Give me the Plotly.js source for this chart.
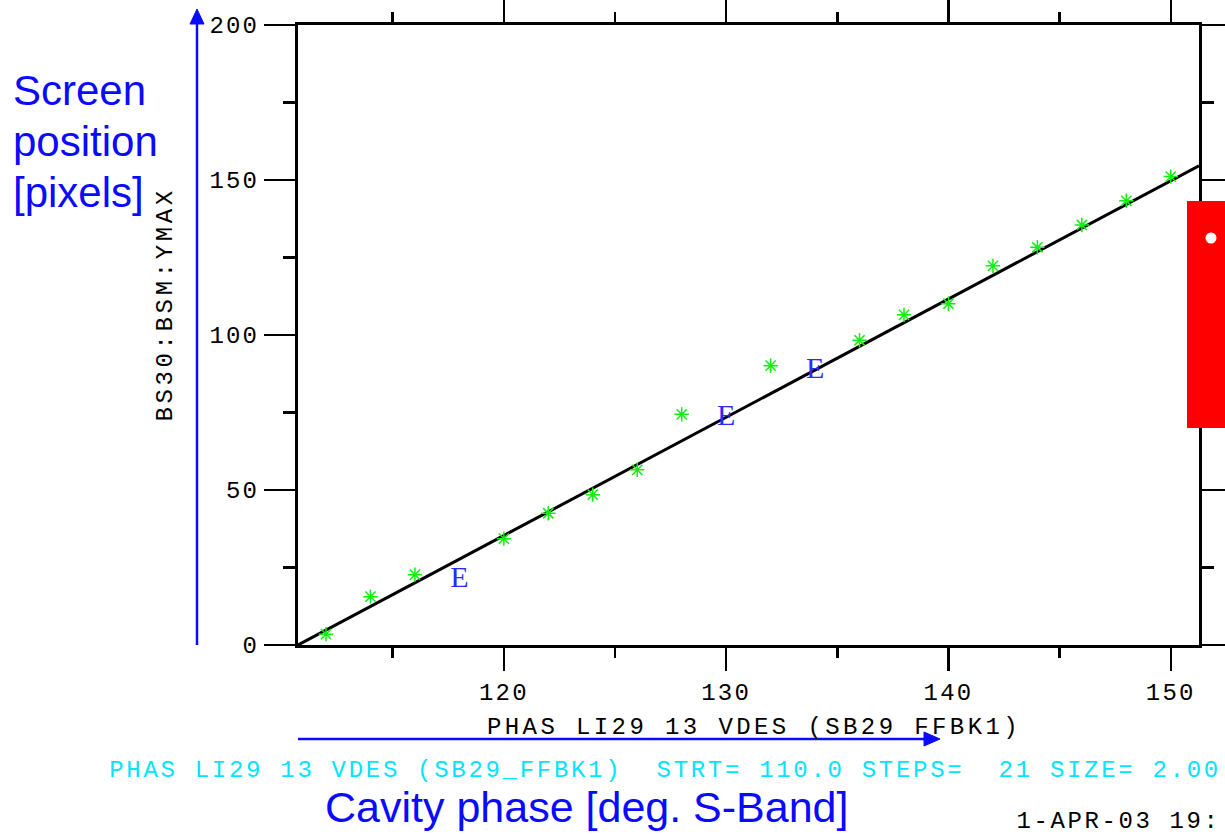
<!DOCTYPE html>
<html>
<head>
<meta charset="utf-8">
<script src="https://cdn.plot.ly/plotly-3.0.1.min.js"></script>
<style>
  html, body { margin: 0; padding: 0; background: #ffffff; }
  #chart { width: 1225px; height: 834px; }
  .xtick text, .ytick text { letter-spacing: 2.2px; }
  .annotation[data-index="0"] text { letter-spacing: 3.4px; }
  .annotation[data-index="1"] text { letter-spacing: 2.7px; }
  .annotation[data-index="2"] text { letter-spacing: 2.6px; }
  .annotation[data-index="3"] text { letter-spacing: 3.6px; }
</style>
</head>
<body>
<div id="chart"></div>
<script>
// ---- data ----
const phase = [112, 114, 116, 120, 122, 124, 126, 128, 132, 136, 138, 140, 142, 144, 146, 148, 150];
const ymax = [3.5, 15.6, 22.7, 34.3, 42.5, 48.5, 56.5, 74.4, 90.1, 98.3, 106.5, 110.1, 122.3, 128.3, 135.5, 143.3, 151.1];
const errPhase = [118, 130, 134];
const errY = [21.2, 73.4, 88.5];
const errLabel = ['E', 'E', 'E'];
const fitX = [110.74, 151.27];
const fitY = [0, 154.6];
const xTickVals = [120, 130, 140, 150];
const yTickVals = [0, 50, 100, 150, 200];
const xTitle = 'PHAS LI29 13 VDES (SB29 FFBK1)';
const yTitle = 'BS30:BSM:YMAX';
const scanInfo = 'PHAS LI29 13 VDES (SB29_FFBK1)  STRT= 110.0 STEPS=  21 SIZE= 2.00';
const dateText = '1-APR-03 19:';
const yNoteLines = ['Screen', 'position', '[pixels]'];
const xNote = 'Cavity phase [deg. S-Band]';

// ---- geometry helpers (pixel -> paper) ----
const L = 298, R = 1199, T = 25, B = 645;
const px = p => (p - L) / (R - L);
const py = p => (B - p) / (B - T);

const mono = 'Liberation Mono, Courier New, monospace';
const sans = 'Liberation Sans, Arial, sans-serif';
const blue = '#0a0aff';

const traces = [
  {
    x: fitX, y: fitY, type: 'scatter', mode: 'lines',
    line: { color: '#000000', width: 3 }, hoverinfo: 'skip', showlegend: false
  },
  {
    x: phase, y: ymax, type: 'scatter', mode: 'markers',
    marker: { symbol: 'asterisk-open', size: 12, color: '#11ee11', line: { color: '#11ee11', width: 1.5 } },
    showlegend: false
  },
  {
    x: errPhase, y: errY, type: 'scatter', mode: 'text',
    text: errLabel, textposition: 'middle center',
    textfont: { family: 'Liberation Serif, Times New Roman, serif', size: 30, color: '#2a2aff' },
    showlegend: false
  }
];

const annotations = [
  { text: xTitle, x: px(754), y: py(727), xanchor: 'center', yanchor: 'middle',
    font: { family: mono, size: 24, color: '#000000' } },
  { text: scanInfo, x: px(665), y: py(770), xanchor: 'center', yanchor: 'middle',
    font: { family: mono, size: 24, color: '#00e4ff' } },
  { text: dateText, x: px(1118), y: py(821), xanchor: 'center', yanchor: 'middle',
    font: { family: mono, size: 24, color: '#000000' } },
  { text: yTitle, x: px(165), y: py(305), xanchor: 'center', yanchor: 'middle', textangle: -90,
    font: { family: mono, size: 24, color: '#000000' } },
  { text: yNoteLines[0], x: px(11), y: py(90), xanchor: 'left', yanchor: 'middle',
    font: { family: sans, size: 42, color: blue } },
  { text: yNoteLines[1], x: px(11), y: py(141), xanchor: 'left', yanchor: 'middle',
    font: { family: sans, size: 42, color: blue } },
  { text: yNoteLines[2], x: px(11), y: py(192), xanchor: 'left', yanchor: 'middle',
    font: { family: sans, size: 42, color: blue } },
  { text: xNote, x: px(323), y: py(807), xanchor: 'left', yanchor: 'middle',
    font: { family: sans, size: 43, color: blue } }
].map(a => Object.assign({ xref: 'paper', yref: 'paper', showarrow: false }, a));

const shapes = [
  // vertical blue arrow
  { type: 'line', xref: 'paper', yref: 'paper', x0: px(197), x1: px(197), y0: py(645), y1: py(22),
    line: { color: blue, width: 2.5 } },
  { type: 'path', xref: 'paper', yref: 'paper',
    path: `M ${px(190)} ${py(24)} L ${px(204)} ${py(24)} L ${px(197)} ${py(9)} Z`,
    fillcolor: blue, line: { color: blue, width: 1 } },
  // horizontal blue arrow
  { type: 'line', xref: 'paper', yref: 'paper', x0: px(298), x1: px(927), y0: py(739), y1: py(739),
    line: { color: blue, width: 2.5 } },
  { type: 'path', xref: 'paper', yref: 'paper',
    path: `M ${px(924)} ${py(732)} L ${px(924)} ${py(746)} L ${px(940)} ${py(739)} Z`,
    fillcolor: blue, line: { color: blue, width: 1 } },
  // red box with white dot
  { type: 'rect', xref: 'paper', yref: 'paper', layer: 'above',
    x0: px(1187), x1: px(1227), y0: py(201), y1: py(428),
    fillcolor: '#ff0000', line: { width: 0 } },
  { type: 'circle', xref: 'paper', yref: 'paper', layer: 'above',
    x0: px(1205.5), x1: px(1216.5), y0: py(232.5), y1: py(243.5),
    fillcolor: '#ffffff', line: { width: 0 } }
];

const layout = {
  width: 1225, height: 834,
  margin: { l: L, r: 1225 - R, t: T, b: 834 - B, pad: 0 },
  paper_bgcolor: '#ffffff', plot_bgcolor: '#ffffff',
  font: { family: mono, color: '#000000' },
  showlegend: false,
  xaxis: {
    range: [110.74, 151.27], tickmode: 'array', tickvals: xTickVals, ticktext: xTickVals.map(String),
    showgrid: false, zeroline: false,
    showline: true, linecolor: '#000000', linewidth: 3, mirror: 'allticks',
    ticks: 'outside', ticklen: 23, tickwidth: 2.5, tickcolor: '#000000',
    minor: { dtick: 5, tick0: 0, ticks: 'outside', ticklen: 10, tickwidth: 2.5, tickcolor: '#000000', showgrid: false },
    tickfont: { family: mono, size: 24, color: '#000000' }
  },
  yaxis: {
    range: [0, 200], tickmode: 'array', tickvals: yTickVals, ticktext: yTickVals.map(String),
    showgrid: false, zeroline: false,
    showline: true, linecolor: '#000000', linewidth: 3, mirror: 'allticks',
    ticks: 'outside', ticklen: 31, tickwidth: 2.5, tickcolor: '#000000',
    minor: { dtick: 25, tick0: 0, ticks: 'outside', ticklen: 12, tickwidth: 2.5, tickcolor: '#000000', showgrid: false },
    tickfont: { family: mono, size: 24, color: '#000000' }
  },
  annotations: annotations,
  shapes: shapes
};

Plotly.newPlot('chart', traces, layout, { displayModeBar: false, staticPlot: true });
</script>
</body>
</html>
